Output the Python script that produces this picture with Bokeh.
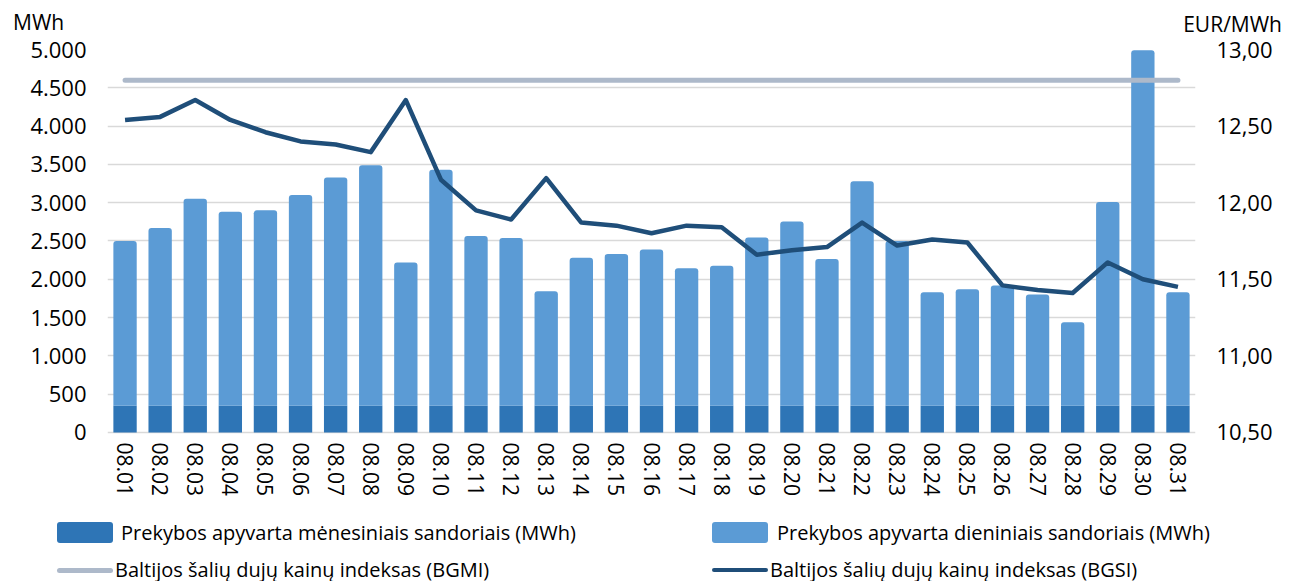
from bokeh.plotting import figure
from bokeh.layouts import column
from bokeh.models import (FactorRange, Range1d, LinearAxis, FixedTicker, Div,
                          ColumnDataSource, CustomJSTickFormatter)
from bokeh.embed import file_html
from bokeh.resources import INLINE

dates = ["08.01", "08.02", "08.03", "08.04", "08.05", "08.06", "08.07", "08.08",
         "08.09", "08.10", "08.11", "08.12", "08.13", "08.14", "08.15", "08.16",
         "08.17", "08.18", "08.19", "08.20", "08.21", "08.22", "08.23", "08.24",
         "08.25", "08.26", "08.27", "08.28", "08.29", "08.30", "08.31"]

monthly = [350, 350, 350, 350, 350, 350, 350, 350, 350, 350, 350, 350, 350, 350, 350, 350,
           350, 350, 350, 350, 350, 350, 350, 350, 350, 350, 350, 350, 350, 350, 350]

daily = [2150, 2320, 2700, 2530, 2550, 2750, 2980, 3140, 1870, 3080, 2215, 2190, 1495,
         1930, 1980, 2040, 1795, 1825, 2195, 2405, 1915, 2930, 2150, 1480, 1520, 1570,
         1450, 1090, 2660, 4640, 1480]

bgmi = [12.80, 12.80, 12.80, 12.80, 12.80, 12.80, 12.80, 12.80, 12.80, 12.80, 12.80,
        12.80, 12.80, 12.80, 12.80, 12.80, 12.80, 12.80, 12.80, 12.80, 12.80, 12.80,
        12.80, 12.80, 12.80, 12.80, 12.80, 12.80, 12.80, 12.80, 12.80]

bgsi = [12.54, 12.56, 12.67, 12.54, 12.46, 12.40, 12.38, 12.33, 12.67, 12.15, 11.95,
        11.89, 12.16, 11.87, 11.85, 11.80, 11.85, 11.84, 11.66, 11.69, 11.71, 11.87,
        11.72, 11.76, 11.74, 11.46, 11.43, 11.41, 11.61, 11.50, 11.45]

left_ticks = [0, 500, 1000, 1500, 2000, 2500, 3000, 3500, 4000, 4500, 5000]
right_ticks = [10.5, 11.0, 11.5, 12.0, 12.5, 13.0]

label_month = "Prekybos apyvarta mėnesiniais sandoriais (MWh)"
label_day = "Prekybos apyvarta dieniniais sandoriais (MWh)"
label_bgmi = "Baltijos šalių dujų kainų indeksas (BGMI)"
label_bgsi = "Baltijos šalių dujų kainų indeksas (BGSI)"
unit_left = "MWh"
unit_right = "EUR/MWh"

C_MONTH = "#2e75b6"
C_DAY = "#5b9bd5"
C_BGMI = "#adb9ca"
C_BGSI = "#1f4e79"

FONT = "Open Sans"
W = 1296
HEAD_H = 33
FIG_H = 477
LEG_H = 581 - HEAD_H - FIG_H

# ---------- header with unit titles ----------
txt = ("position:absolute;white-space:nowrap;font-family:'Open Sans';"
       "font-size:21px;line-height:18px;color:#000;")
head_html = (
    f'<div style="position:relative;width:{W}px;height:{HEAD_H}px;">'
    f'<span style="{txt}left:13px;top:12.5px;">{unit_left}</span>'
    f'<span style="{txt}right:14px;top:15px;">{unit_right}</span>'
    '</div>'
)
head = Div(text=head_html, width=W, height=HEAD_H, margin=0)

# ---------- main chart ----------
src = ColumnDataSource(dict(
    date=dates,
    monthly=monthly,
    total=[m + d for m, d in zip(monthly, daily)],
    bgmi=bgmi,
    bgsi=bgsi,
))

p = figure(width=W, height=FIG_H,
           x_range=FactorRange(*dates, range_padding=0),
           y_range=Range1d(-40, 5000),
           output_backend="svg", toolbar_location=None,
           min_border_left=107, min_border_right=101,
           min_border_top=49 - HEAD_H, min_border_bottom=75)
p.outline_line_color = None

p.extra_y_ranges = {"eur": Range1d(10.48, 13.0)}

bar_w = 0.665
p.vbar(x="date", bottom=0, top="monthly", width=bar_w, source=src,
       fill_color=C_MONTH, line_color=None)
p.vbar(x="date", bottom="monthly", top="total", width=bar_w, source=src,
       fill_color=C_DAY, line_color=None, border_radius=(3, 3, 0, 0))

p.line(x="date", y="bgmi", source=src, y_range_name="eur",
       line_color=C_BGMI, line_width=5, line_cap="round")
p.line(x="date", y="bgsi", source=src, y_range_name="eur",
       line_color=C_BGSI, line_width=4.5, line_join="round")

def style_axis(ax, size, standoff):
    ax.axis_line_color = None
    ax.major_tick_line_color = None
    ax.minor_tick_line_color = None
    ax.major_tick_out = 0
    ax.major_tick_in = 0
    ax.minor_tick_out = 0
    ax.major_label_standoff = standoff
    ax.major_label_text_font = FONT
    ax.major_label_text_font_size = size
    ax.major_label_text_color = "#000000"

yax = p.yaxis[0]
yax.ticker = FixedTicker(ticks=left_ticks)
yax.formatter = CustomJSTickFormatter(
    code="return String(Math.round(tick)).replace(/\\B(?=(\\d{3})+(?!\\d))/g, '.');")
style_axis(yax, "22px", 21)

rax = LinearAxis(y_range_name="eur", ticker=FixedTicker(ticks=right_ticks),
                 formatter=CustomJSTickFormatter(code="return tick.toFixed(2).replace('.', ',');"))
style_axis(rax, "22px", 21)
p.add_layout(rax, "right")

xax = p.xaxis[0]
style_axis(xax, "21px", 7)
xax.major_label_orientation = "vertical"

p.xgrid.grid_line_color = None
p.ygrid.ticker = FixedTicker(ticks=left_ticks)
p.ygrid.grid_line_color = "#d9d9d9"
p.ygrid.grid_line_width = 1.5

# ---------- legend ----------
ltxt = ("position:absolute;white-space:nowrap;font-family:'Open Sans';"
        "font-size:20px;line-height:22px;color:#000;")
sw = "position:absolute;"
leg_html = (
    f'<div style="position:relative;width:{W}px;height:{LEG_H}px;">'
    f'<span style="{sw}left:57px;top:12px;width:56px;height:21px;border-radius:3px;background:{C_MONTH};"></span>'
    f'<span style="{ltxt}left:121px;top:11.5px;">{label_month}</span>'
    f'<span style="{sw}left:712px;top:12px;width:56px;height:21px;border-radius:3px;background:{C_DAY};"></span>'
    f'<span style="{ltxt}left:777px;top:11.5px;">{label_day}</span>'
    f'<span style="{sw}left:57px;top:57.5px;width:56px;height:5px;border-radius:2.5px;background:{C_BGMI};"></span>'
    f'<span style="{ltxt}left:115px;top:49px;">{label_bgmi}</span>'
    f'<span style="{sw}left:712px;top:57.75px;width:56px;height:4.5px;border-radius:2px;background:{C_BGSI};"></span>'
    f'<span style="{ltxt}left:770px;top:49px;">{label_bgsi}</span>'
    '</div>'
)
leg = Div(text=leg_html, width=W, height=LEG_H, margin=0)

layout = column(head, p, leg, spacing=0)
open("out.html", "w").write(file_html(layout, INLINE))
